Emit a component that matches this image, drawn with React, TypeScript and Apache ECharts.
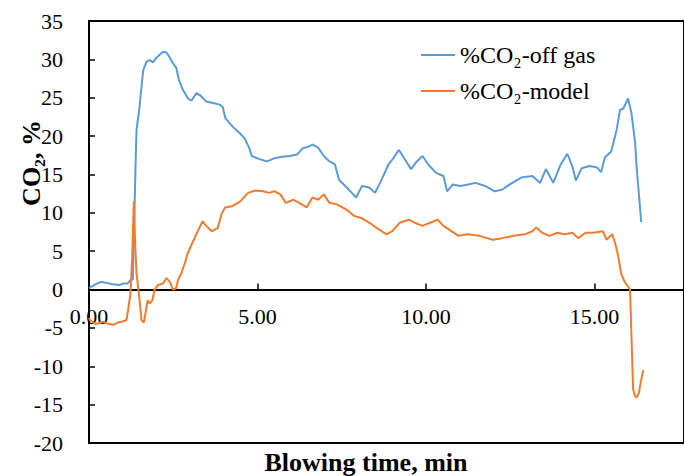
import React, { useEffect, useRef } from 'react';
import * as echarts from 'echarts';

// Blowing time (min) and %CO2 measured in off gas
const offGasTime = [
  0.0, 0.2, 0.35, 0.5, 0.7, 0.9, 1.05, 1.15, 1.22, 1.3, 1.34, 1.38, 1.41, 1.49, 1.56, 1.61, 1.71, 1.8, 1.9, 2.0,
  2.1, 2.2, 2.3, 2.4, 2.49, 2.59, 2.67, 2.79, 2.94, 3.04, 3.19, 3.33, 3.48, 3.68, 3.88, 3.97, 4.05, 4.27, 4.47, 4.62,
  4.76, 4.83, 5.06, 5.28, 5.5, 5.73, 5.96, 6.18, 6.34, 6.5, 6.64, 6.8, 6.97, 7.14, 7.3, 7.42, 7.65, 7.8, 7.93, 8.1,
  8.32, 8.49, 8.66, 8.89, 9.05, 9.2, 9.34, 9.56, 9.73, 9.9, 10.07, 10.3, 10.52, 10.63, 10.8, 11.02, 11.25, 11.47, 11.76, 12.04,
  12.26, 12.49, 12.83, 13.16, 13.39, 13.56, 13.78, 14.0, 14.2, 14.35, 14.45, 14.62, 14.86, 15.08, 15.2, 15.31, 15.5, 15.66, 15.76, 15.86,
  16.0, 16.1, 16.21, 16.26, 16.33, 16.39,
];
const offGasValue = [
  0.2, 0.7, 1.0, 0.9, 0.7, 0.6, 0.8, 0.8, 1.2, 1.3, 8.0, 16.0, 20.8, 23.4, 26.5, 28.6, 29.7, 29.9, 29.6, 30.2,
  30.6, 31.0, 30.9, 30.2, 29.5, 28.9, 27.3, 26.0, 24.9, 24.6, 25.6, 25.2, 24.5, 24.3, 24.1, 23.8, 22.3, 21.2, 20.4, 19.7,
  18.4, 17.4, 17.0, 16.7, 17.1, 17.3, 17.4, 17.6, 18.4, 18.6, 18.9, 18.5, 17.4, 16.7, 16.3, 14.3, 13.3, 12.6, 12.0, 13.5,
  13.3, 12.6, 14.1, 16.3, 17.2, 18.2, 17.2, 15.7, 16.7, 17.4, 16.3, 15.2, 14.8, 12.8, 13.7, 13.5, 13.7, 13.9, 13.5, 12.8,
  13.0, 13.7, 14.6, 14.8, 13.9, 15.7, 13.9, 16.3, 17.7, 16.0, 14.2, 15.8, 16.1, 15.9, 15.3, 17.2, 18.0, 20.8, 23.4, 23.6,
  24.9, 23.0, 19.1, 15.6, 12.0, 8.8,
];

// Blowing time (min) and %CO2 predicted by the model
const modelTime = [
  0.0, 0.03, 0.2, 0.42, 0.6, 0.72, 0.85, 0.97, 1.11, 1.16, 1.23, 1.28, 1.33, 1.37, 1.41, 1.49, 1.56, 1.63, 1.69, 1.74,
  1.8, 1.88, 1.95, 2.05, 2.2, 2.3, 2.4, 2.49, 2.59, 2.64, 2.74, 2.84, 2.92, 3.09, 3.25, 3.37, 3.48, 3.65, 3.82, 3.93,
  4.04, 4.27, 4.49, 4.72, 4.94, 5.17, 5.34, 5.51, 5.68, 5.84, 6.07, 6.24, 6.46, 6.63, 6.8, 6.97, 7.14, 7.36, 7.65, 7.87,
  8.1, 8.32, 8.55, 8.83, 9.0, 9.22, 9.5, 9.67, 9.9, 10.12, 10.35, 10.52, 10.69, 10.97, 11.25, 11.59, 11.98, 12.26, 12.6, 12.94,
  13.16, 13.28, 13.45, 13.67, 13.9, 14.12, 14.35, 14.52, 14.74, 14.97, 15.25, 15.36, 15.53, 15.62, 15.7, 15.8, 15.9, 16.0, 16.06, 16.1,
  16.15, 16.2, 16.25, 16.32, 16.38, 16.45,
];
const modelValue = [
  -3.7, -4.0, -4.5, -4.2, -4.5, -4.6, -4.3, -4.2, -4.0, -2.7, -0.5, 4.0, 11.5, 6.0, 2.1, -0.9, -4.0, -4.3, -2.7, -1.4,
  -1.8, -1.4, 0.0, 0.6, 0.8, 1.5, 1.0, 0.0, 0.2, 1.25, 2.1, 3.4, 4.6, 6.3, 7.8, 8.9, 8.3, 7.6, 8.0, 9.8,
  10.7, 10.9, 11.5, 12.6, 12.9, 12.8, 12.6, 12.8, 12.4, 11.3, 11.7, 11.3, 10.7, 12.0, 11.7, 12.4, 11.3, 11.1, 10.4, 9.6,
  9.3, 8.7, 8.0, 7.2, 7.6, 8.7, 9.1, 8.7, 8.3, 8.7, 9.1, 8.3, 7.8, 7.0, 7.2, 7.0, 6.5, 6.7, 7.0, 7.2,
  7.6, 8.1, 7.4, 7.0, 7.4, 7.2, 7.4, 6.7, 7.4, 7.4, 7.6, 6.5, 7.2, 6.0, 4.5, 2.0, 1.0, 0.4, 0.0, -6.0,
  -13.0, -13.8, -14.1, -13.5, -12.0, -10.5,
];

const seriesNames = ['%CO₂-off gas', '%CO₂-model'];
const seriesColors = ['#5B9BD5', '#ED7D31'];
const xTickStep = 5;
const yTickStep = 5;
const yMin = -20;
const yMax = 35;
const xMin = 0;
const xMax = 17.66;

const zip = (xs: number[], ys: number[]) => xs.map((x, i) => [x, ys[i]]);

const FONT = '"Liberation Serif", "Times New Roman", serif';

const GRID_TOP = 21;
const GRID_BOTTOM = 33;
const CHART_H = 476;

export default function App() {
  const ref = useRef<HTMLDivElement>(null);
  useEffect(() => {
    if (!ref.current) return;
    const chart = echarts.init(ref.current, null, { renderer: 'svg' });
    const plotH = CHART_H - GRID_TOP - GRID_BOTTOM;
    const zeroFromBottom = ((0 - yMin) / (yMax - yMin)) * plotH;
    chart.setOption({
      animation: false,
      backgroundColor: '#fff',
      grid: {
        left: 89,
        top: GRID_TOP,
        right: -2,
        bottom: GRID_BOTTOM,
        show: true,
        borderColor: '#000',
        borderWidth: 2,
        backgroundColor: 'transparent',
      },
      legend: {
        orient: 'vertical',
        left: 416,
        top: 38,
        itemWidth: 34,
        itemHeight: 2,
        itemGap: 12,
        icon: 'rect',
        data: seriesNames,
        textStyle: { fontFamily: FONT, fontSize: 24, color: '#000' },
      },
      xAxis: {
        type: 'value',
        position: 'bottom',
        offset: -zeroFromBottom,
        min: xMin,
        max: xMax,
        interval: xTickStep,
        axisLine: { onZero: false, lineStyle: { color: '#000', width: 2 } },
        axisTick: { inside: true, length: 6, lineStyle: { color: '#000', width: 1.5 } },
        splitLine: { show: false },
        axisLabel: {
          formatter: (v: number) => (Math.abs(v % xTickStep) < 1e-9 ? v.toFixed(2) : ''),
          fontFamily: FONT,
          fontSize: 22,
          color: '#000',
          margin: 16,
          showMaxLabel: false,
        },
      },
      yAxis: {
        type: 'value',
        min: yMin,
        max: yMax,
        interval: yTickStep,
        axisLine: { show: true, onZero: false, lineStyle: { color: '#000', width: 2 } },
        axisTick: { show: true, inside: true, length: 6, lineStyle: { color: '#000', width: 1.5 } },
        splitLine: { show: false },
        axisLabel: { fontFamily: FONT, fontSize: 22, color: '#000', margin: 26 },
      },
      series: [
        {
          name: seriesNames[0],
          type: 'line',
          data: zip(offGasTime, offGasValue),
          showSymbol: false,
          symbol: 'none',
          lineStyle: { color: seriesColors[0], width: 2 },
          itemStyle: { color: seriesColors[0] },
        },
        {
          name: seriesNames[1],
          type: 'line',
          data: zip(modelTime, modelValue),
          showSymbol: false,
          symbol: 'none',
          lineStyle: { color: seriesColors[1], width: 2 },
          itemStyle: { color: seriesColors[1] },
        },
      ],
      graphic: [
        {
          type: 'text',
          x: 366,
          y: 462,
          style: {
            text: 'Blowing time, min',
            fontFamily: FONT,
            fontWeight: 'bold',
            fontSize: 26,
            fill: '#000',
            align: 'center',
            verticalAlign: 'middle',
          },
        },
        {
          type: 'text',
          x: 31,
          y: 163,
          rotation: Math.PI / 2,
          style: {
            text: 'CO₂, %',
            fontFamily: FONT,
            fontWeight: 'bold',
            fontSize: 26,
            fill: '#000',
            align: 'center',
            verticalAlign: 'middle',
          },
        },
      ],
    });
    return () => chart.dispose();
  }, []);
  return (
    <div
      ref={ref}
      style={{ position: 'absolute', left: 0, top: 0, width: 684, height: 476 }}
    />
  );
}
